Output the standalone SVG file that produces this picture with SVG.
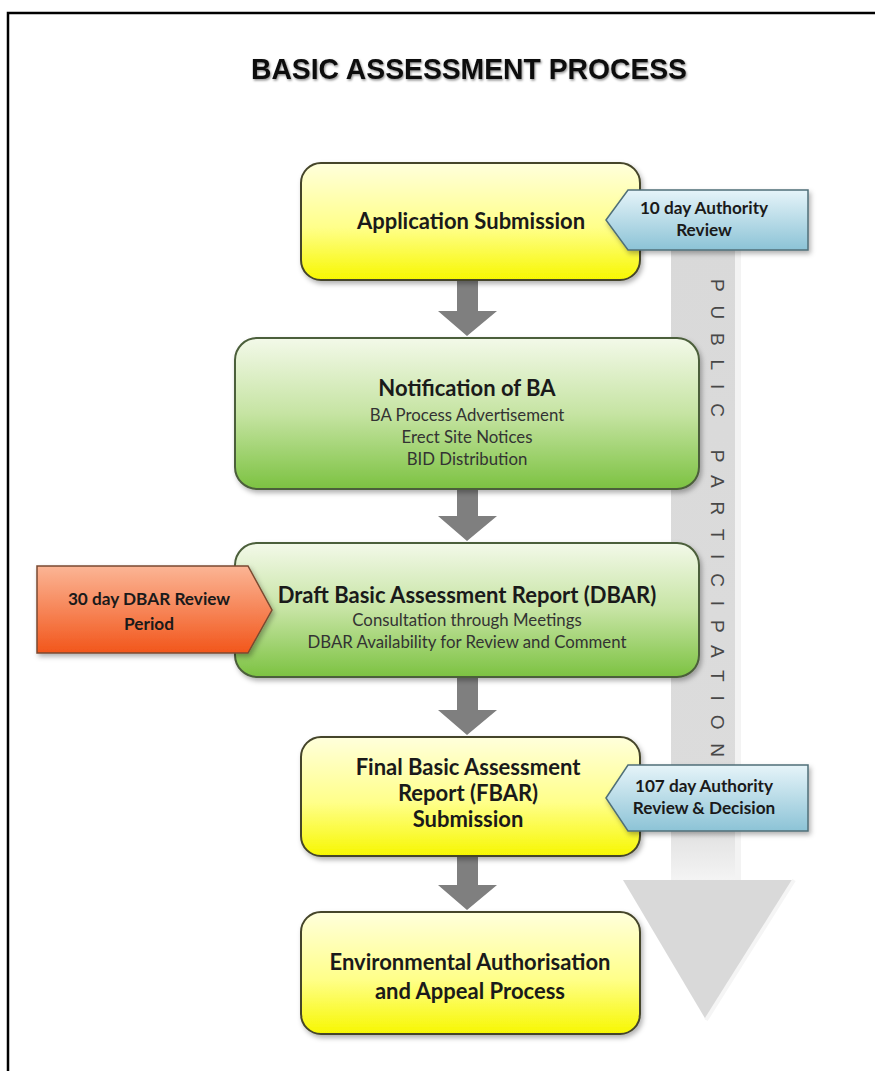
<svg xmlns="http://www.w3.org/2000/svg" width="875" height="1071" viewBox="0 0 875 1071">
  <defs>
    <linearGradient id="gYellow" x1="0" y1="0" x2="0" y2="1">
      <stop offset="0" stop-color="#ffffdc"/>
      <stop offset="0.55" stop-color="#ffff8a"/>
      <stop offset="1" stop-color="#f7f700"/>
    </linearGradient>
    <linearGradient id="gGreen" x1="0" y1="0" x2="0" y2="1">
      <stop offset="0" stop-color="#f3f9e9"/>
      <stop offset="0.5" stop-color="#c6e4a3"/>
      <stop offset="1" stop-color="#7cc241"/>
    </linearGradient>
    <linearGradient id="gBlue" x1="0" y1="0" x2="0" y2="1">
      <stop offset="0" stop-color="#e6f4f9"/>
      <stop offset="1" stop-color="#8cc3d6"/>
    </linearGradient>
    <linearGradient id="gOrange" x1="0" y1="0" x2="0" y2="1">
      <stop offset="0" stop-color="#fbb595"/>
      <stop offset="1" stop-color="#f2561b"/>
    </linearGradient>
    <linearGradient id="gBar" x1="0" y1="0" x2="0" y2="1">
      <stop offset="0" stop-color="#d9d9d9"/>
      <stop offset="0.9" stop-color="#dcdcdc"/>
      <stop offset="1" stop-color="#f4f4f4"/>
    </linearGradient>
    <filter id="shadow" x="-10%" y="-10%" width="120%" height="130%">
      <feDropShadow dx="2" dy="3" stdDeviation="2.5" flood-color="#000" flood-opacity="0.3"/>
    </filter>
    <filter id="tshadow" x="-5%" y="-30%" width="110%" height="160%">
      <feDropShadow dx="1" dy="1.5" stdDeviation="1.2" flood-color="#000" flood-opacity="0.45"/>
    </filter>
  </defs>
  <style>
    .yellow { fill: url(#gYellow); stroke: #45452a; stroke-width: 2; }
    .green { fill: url(#gGreen); stroke: #4b5e3a; stroke-width: 2; }
    .blue { fill: url(#gBlue); stroke: #4f6f78; stroke-width: 1.5; }
    .orange { fill: url(#gOrange); stroke: #7a4a30; stroke-width: 1.5; }
    .head { font-family: Lato, "Liberation Sans", sans-serif; font-weight: bold; font-size: 22px; fill: #1a1a1a; text-anchor: middle; }
    .sub { font-family: Lato, "Liberation Sans", sans-serif; font-size: 16.8px; fill: #333; text-anchor: middle; }
    .lbl { font-family: Lato, "Liberation Sans", sans-serif; font-weight: bold; font-size: 17.2px; fill: #1a1a1a; text-anchor: middle; }
    .conn { fill: #7f7f7f; }
  </style>

  <rect width="875" height="1071" fill="#ffffff"/>
  <!-- outer frame -->
  <path d="M8 1071 V13 H875" fill="none" stroke="#000" stroke-width="2.5"/>

  <!-- title -->
  <text x="469" y="79" font-family="'Liberation Sans', Arial, sans-serif" font-weight="bold" font-size="30" fill="#111" text-anchor="middle" textLength="436" lengthAdjust="spacingAndGlyphs" filter="url(#tshadow)">BASIC ASSESSMENT PROCESS</text>

  <!-- public participation big arrow -->
  <g id="public-participation">
    <rect x="671" y="235" width="70" height="646" fill="url(#gBar)"/>
    <rect x="735" y="235" width="6" height="646" fill="#f3f3f3"/>
    <polygon points="623,880 794,880 706,1020" fill="#d9d9d9"/>
    <line x1="794" y1="880" x2="706" y2="1020" stroke="#f5f5f5" stroke-width="4"/>
    <text x="717" y="518" transform="rotate(90 717 518)" font-family="'Liberation Sans', Arial, sans-serif" font-size="19" fill="#484848" text-anchor="middle" dominant-baseline="central" textLength="478" lengthAdjust="spacing">PUBLIC PARTICIPATION</text>
  </g>

  <!-- connectors -->
  <g id="connectors">
    <polygon class="conn" points="457,280 478,280 478,311 497,311 467,336 438,311 457,311"/>
    <polygon class="conn" points="457,489 478,489 478,516 497,516 467,541 438,516 457,516"/>
    <polygon class="conn" points="457,677 478,677 478,710 497,710 467,735 438,710 457,710"/>
    <polygon class="conn" points="457,857 478,857 478,885 497,885 467,910 438,885 457,885"/>
  </g>

  <g id="application-submission">
    <rect class="yellow" x="301" y="163" width="339" height="117" rx="20" filter="url(#shadow)"/>
    <text class="head" x="471" y="229">Application Submission</text>
  </g>

  <g id="authority-review-10">
    <polygon class="blue" points="606,220 628,190 808,190 808,250 628,250" filter="url(#shadow)"/>
    <text class="lbl" x="704" y="214">10 day Authority</text>
    <text class="lbl" x="704" y="236">Review</text>
  </g>

  <g id="notification-ba">
    <rect class="green" x="235" y="338" width="464" height="151" rx="22" filter="url(#shadow)"/>
    <text class="head" x="467" y="396">Notification of BA</text>
    <text class="sub" x="467" y="421">BA Process Advertisement</text>
    <text class="sub" x="467" y="443">Erect Site Notices</text>
    <text class="sub" x="467" y="465">BID Distribution</text>
  </g>

  <g id="dbar">
    <rect class="green" x="235" y="543" width="464" height="134" rx="22" filter="url(#shadow)"/>
    <text class="head" x="467" y="603">Draft Basic Assessment Report (DBAR)</text>
    <text class="sub" x="467" y="626">Consultation through Meetings</text>
    <text class="sub" x="467" y="648">DBAR Availability for Review and Comment</text>
  </g>

  <g id="dbar-review-30">
    <polygon class="orange" points="37,566 248,566 272,610 248,653 37,653" filter="url(#shadow)"/>
    <text class="lbl" x="149" y="605" font-size="19.5">30 day DBAR Review</text>
    <text class="lbl" x="149" y="630" font-size="19.5">Period</text>
  </g>

  <g id="fbar">
    <rect class="yellow" x="301" y="737" width="339" height="119" rx="20" filter="url(#shadow)"/>
    <text class="head" x="468" y="775" font-size="21">Final Basic Assessment</text>
    <text class="head" x="468" y="801" font-size="21">Report (FBAR)</text>
    <text class="head" x="468" y="827" font-size="21">Submission</text>
  </g>

  <g id="authority-review-107">
    <polygon class="blue" points="606,798 628,765 808,765 808,831 628,831" filter="url(#shadow)"/>
    <text class="lbl" x="704" y="792">107 day Authority</text>
    <text class="lbl" x="704" y="814">Review &amp; Decision</text>
  </g>

  <g id="environmental-authorisation">
    <rect class="yellow" x="301" y="912" width="339" height="122" rx="20" filter="url(#shadow)"/>
    <text class="head" x="470" y="970">Environmental Authorisation</text>
    <text class="head" x="470" y="999">and Appeal Process</text>
  </g>
</svg>
